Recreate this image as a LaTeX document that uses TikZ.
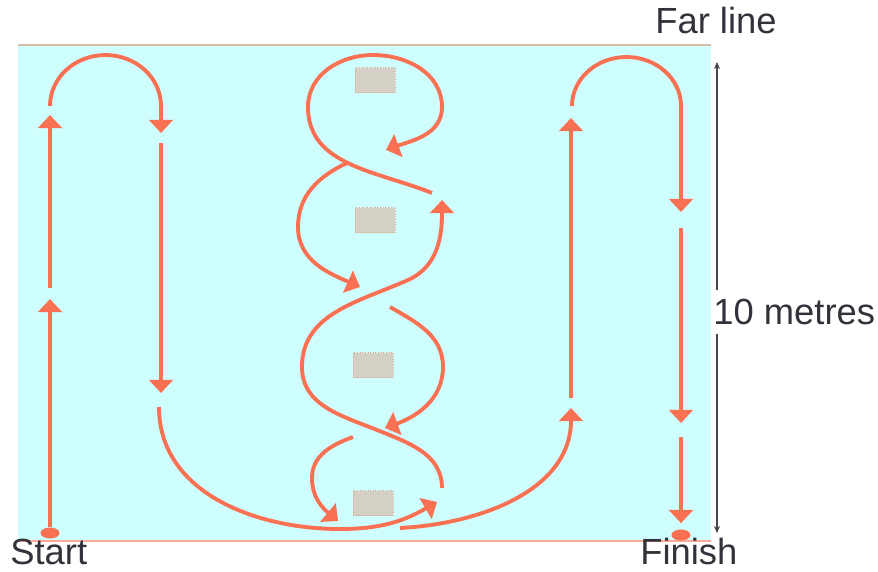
\documentclass[tikz,border=0pt]{standalone}
\usepackage{fontspec}
\setmainfont{Liberation Sans}
\usetikzlibrary{arrows.meta,shapes.geometric}
\definecolor{pitch}{RGB}{206,254,254}
\definecolor{route}{RGB}{250,112,82}
\definecolor{conefill}{RGB}{212,208,198}
\definecolor{coneline}{RGB}{225,160,130}
\definecolor{farcol}{RGB}{215,190,172}
\definecolor{inkgray}{RGB}{50,50,58}
\definecolor{dimcol}{RGB}{70,70,80}
\tikzset{
	runline/.style={draw=route, line width=2.2pt, -{Triangle[width=13.5pt,length=7.5pt]}},
	cone/.style={rectangle, fill=conefill, draw=coneline, densely dotted, line width=0.5pt, minimum width=8mm, minimum height=5mm, inner sep=0},
	spot/.style={ellipse, fill=route, minimum width=3.8mm, minimum height=2.2mm, inner sep=0},
	fieldtext/.style={text=inkgray, font=\fontsize{20.7}{24}\selectfont, inner sep=0}
}

\begin{document}
\begin{tikzpicture}[x=0.2mm,y=0.2mm]
		\useasboundingbox (0,0) rectangle (878,-572);
		\fill[pitch] (18,-45) rectangle (711,-541);
		\draw[farcol, line width=1.2pt] (18,-45) -- (711,-45);
		\draw[route!60, line width=0.8pt] (18,-541) -- (711,-541);
		\node[cone] (cone1) at (375,-80) {};
		\node[cone] (cone2) at (375,-220) {};
		\node[cone] (cone3) at (373,-365) {};
		\node[cone] (cone4) at (373,-503) {};
		\node[spot] (start) at (50,-533) {};
		\node[spot] (finish) at (681,-535) {};
		\node[fieldtext, anchor=base west] (farline) at (655,-33) {Far line};
		\node[fieldtext, anchor=base west] (startlbl) at (10,-564) {Start};
		\node[fieldtext, anchor=base west] (finishlbl) at (640,-564) {Finish};
		\node[fieldtext, anchor=west, inner ysep=5pt] (metres) at (713,-312) {10 metres};
		\coordinate (dimtop) at (717,-62);
		\coordinate (dimbot) at (717,-533);
		\draw[dimcol, line width=0.8pt, -{Stealth[length=4pt,width=3.5pt]}] (dimtop |- metres.north) -- (dimtop);
		\draw[dimcol, line width=0.8pt, -{Stealth[length=4pt,width=3.5pt]}] (dimbot |- metres.south) -- (dimbot);
		\draw[runline] (start) -- (50,-299);
		\draw[runline] (50,-288) -- (50,-115);
		\draw[runline] (50,-106) arc[start angle=180, end angle=0, x radius=55.5, y radius=51] -- (161,-133);
		\draw[runline] (161,-143) -- (161,-393);
		\draw[runline] (159,-407) to[out=-90,in=180] (340,-529) to[out=0,in=-150] (437,-502);
		\draw[runline] (442,-488) to[out=90,in=-22] (377,-430) to[out=158,in=-90] (302,-367) to[out=90,in=-156] (408,-280) to[out=24,in=-90] (442,-200);
		\draw[runline] (432,-193) to[out=158,in=-90] (308,-107) to[out=90,in=180] (373,-55) to[out=0,in=90] (442,-107) to[out=-90,in=20] (386,-150);
		\draw[runline] (347,-163) to[out=205,in=90] (298,-227) to[out=-90,in=156] (360,-287);
		\draw[runline] (390,-307) to[out=-30,in=90] (443,-367) to[out=-90,in=20] (385,-428);
		\draw[runline] (353,-437) to[out=200,in=90] (312,-478) to[out=-90,in=140] (338,-521);
		\draw[runline] (400,-528) to[out=3,in=-90] (571,-408);
		\draw[runline] (571,-398) -- (571,-118);
		\draw[runline] (572,-106) arc[start angle=180, end angle=0, x radius=54.5, y radius=49] -- (681,-212);
		\draw[runline] (681,-228) -- (681,-423);
		\draw[runline, shorten >=1.2mm] (681,-437) -- (finish);
\end{tikzpicture}
\end{document}
